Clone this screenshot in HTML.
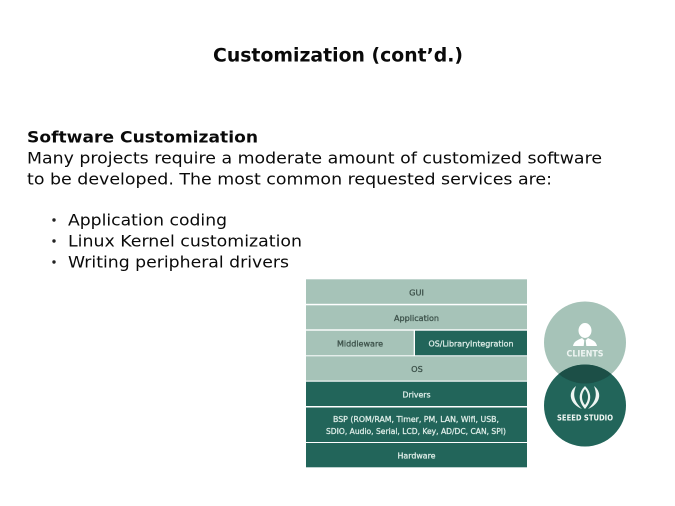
<!DOCTYPE html>
<html>
<head>
<meta charset="utf-8">
<style>
html,body{margin:0;padding:0;background:#fff;width:675px;height:506px;overflow:hidden}
svg{display:block}
.h{font-family:"DejaVu Sans","Liberation Sans",sans-serif;fill:#0a0a0a}
.b{font-weight:bold}
.d{font-family:"DejaVu Sans","Liberation Sans",sans-serif;font-size:8.2px;text-anchor:middle;stroke-width:.3px}
.l{fill:#3d524b;stroke:#3d524b}
.w{fill:#dcebe6;stroke:#dcebe6}
</style>
</head>
<body>
<svg width="675" height="506" viewBox="0 0 675 506" xmlns="http://www.w3.org/2000/svg">
<defs>
<clipPath id="c1"><circle cx="585" cy="342.5" r="41"/></clipPath>
<filter id="s" x="-5%" y="-5%" width="110%" height="110%"><feGaussianBlur stdDeviation="0.3"/></filter>
</defs>
<text class="h b" x="213" y="61.5" font-size="18.5" textLength="250" lengthAdjust="spacingAndGlyphs">Customization (cont’d.)</text>
<text class="h b" x="27" y="142.5" font-size="16" textLength="231" lengthAdjust="spacingAndGlyphs">Software Customization</text>
<text class="h" x="27" y="163.5" font-size="16" textLength="575" lengthAdjust="spacingAndGlyphs">Many projects require a moderate amount of customized software</text>
<text class="h" x="27" y="184.5" font-size="16" textLength="525" lengthAdjust="spacingAndGlyphs">to be developed. The most common requested services are:</text>
<circle cx="54" cy="220" r="1.7" fill="#222"/>
<circle cx="54" cy="241" r="1.7" fill="#222"/>
<circle cx="54" cy="262" r="1.7" fill="#222"/>
<text class="h" x="68" y="225.5" font-size="16" textLength="159" lengthAdjust="spacingAndGlyphs">Application coding</text>
<text class="h" x="68" y="246.5" font-size="16" textLength="234" lengthAdjust="spacingAndGlyphs">Linux Kernel customization</text>
<text class="h" x="68" y="267.5" font-size="16" textLength="221" lengthAdjust="spacingAndGlyphs">Writing peripheral drivers</text>

<g filter="url(#s)">
<rect x="306" y="279.3" width="221" height="24.5" fill="#a6c3b8"/>
<rect x="306" y="305.3" width="221" height="24" fill="#a6c3b8"/>
<rect x="306" y="330.7" width="107.7" height="24.6" fill="#a6c3b8"/>
<rect x="415" y="330.7" width="112" height="24.6" fill="#20655a"/>
<rect x="306" y="356.3" width="221" height="24.3" fill="#a6c3b8"/>
<rect x="306" y="381.7" width="221" height="24.3" fill="#20655a"/>
<rect x="306" y="407.5" width="221" height="34.5" fill="#20655a"/>
<rect x="306" y="443" width="221" height="24.3" fill="#20655a"/>

<text class="d l" x="416.5" y="295.5">GUI</text>
<text class="d l" x="416.5" y="321" textLength="45" lengthAdjust="spacingAndGlyphs">Application</text>
<text class="d l" x="360" y="346.5" textLength="46" lengthAdjust="spacingAndGlyphs">Middleware</text>
<text class="d w" x="471" y="346.5" textLength="85" lengthAdjust="spacingAndGlyphs">OS/LibraryIntegration</text>
<text class="d l" x="417" y="372">OS</text>
<text class="d w" x="416.5" y="397.5" textLength="28" lengthAdjust="spacingAndGlyphs">Drivers</text>
<text class="d w" x="416" y="422" textLength="166" lengthAdjust="spacingAndGlyphs">BSP (ROM/RAM, Timer, PM, LAN, Wifi, USB,</text>
<text class="d w" x="416" y="434" textLength="180" lengthAdjust="spacingAndGlyphs">SDIO, Audio, Serial, LCD, Key, AD/DC, CAN, SPI)</text>
<text class="d w" x="416.5" y="458.5" textLength="38" lengthAdjust="spacingAndGlyphs">Hardware</text>

<circle cx="585" cy="342.5" r="41" fill="#a6c3b8"/>
<circle cx="585" cy="405.5" r="41" fill="#20655a"/>
<circle cx="585" cy="405.5" r="41" fill="#1a4f47" clip-path="url(#c1)"/>

<!-- client icon -->
<ellipse cx="585" cy="330.5" rx="6.5" ry="7.5" fill="#fff"/>
<path d="M573 346 C574 341 578 340 582 338 L585 341 L588 338 C592 340 596 341 597 346 Z" fill="#fff"/>
<path d="M584.3 340.5 h1.4 l0.6 5.5 h-2.6 Z" fill="#a6c3b8"/>
<text x="585" y="356.5" text-anchor="middle" font-family="'DejaVu Sans','Liberation Sans',sans-serif" font-size="8.5" font-weight="bold" fill="#eef5f2" textLength="37" lengthAdjust="spacingAndGlyphs">CLIENTS</text>

<!-- seeed icon -->
<path d="M585 386 C578 393 578 401 585 409 C592 401 592 393 585 386 Z M585 389 C581 394 581 400 585 405 C589 400 589 394 585 389 Z" fill="#eef5f2" fill-rule="evenodd"/>
<path d="M576 386 C567 393 570 404 582 409 C575 402 572 396 576 386 Z" fill="#eef5f2"/>
<path d="M594 386 C603 393 600 404 588 409 C595 402 598 396 594 386 Z" fill="#eef5f2"/>
<text x="585" y="420.5" text-anchor="middle" font-family="'DejaVu Sans','Liberation Sans',sans-serif" font-size="8" font-weight="bold" fill="#f1f7f4" textLength="56" lengthAdjust="spacingAndGlyphs">SEEED STUDIO</text>
</g>
</svg>
</body>
</html>
